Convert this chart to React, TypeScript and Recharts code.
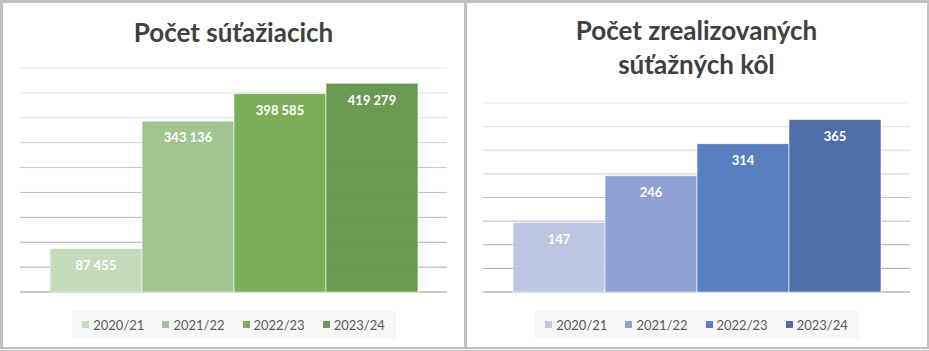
import { BarChart, Bar, XAxis, YAxis, CartesianGrid, LabelList } from "recharts";

const SEASONS = ["2020/21", "2021/22", "2022/23", "2023/24"];
const PARTICIPANTS = [87455, 343136, 398585, 419279];
const ROUNDS = [147, 246, 314, 365];
const PARTICIPANT_TICKS = [0, 50000, 100000, 150000, 200000, 250000, 300000, 350000, 400000, 450000];
const ROUND_TICKS = [0, 50, 100, 150, 200, 250, 300, 350, 400];

const GREENS = ["#c0d8b6", "#98c084", "#71a84c", "#5e9143"];
const BLUES = ["#b7c2e2", "#8499d0", "#4c73bd", "#40619e"];

const FONT = "Lato, 'Open Sans', sans-serif";
const BAR_OPACITY = 0.92;

const fmt = (v: any) => String(v).replace(/\B(?=(\d{3})+(?!\d))/g, " ");

interface PanelProps {
  titleLines: string[];
  titleTop: number;
  values: number[];
  ticks: number[];
  colors: string[];
  left: number;
  width: number;
  margin: { top: number; right: number; bottom: number; left: number };
}

function Panel({ titleLines, titleTop, values, ticks, colors, left, width, margin }: PanelProps) {
  const height = 344;
  const row: Record<string, any> = { name: "all" };
  SEASONS.forEach((s, i) => (row[s] = values[i]));
  const data = [row];

  const gridTop = margin.top;
  const gridBottom = height - margin.bottom;
  const gridLine = (p: any) => {
    const t = Math.max(0, Math.min(1, (p.y1 - gridTop) / (gridBottom - gridTop)));
    const g = Math.round(233 - t * 78);
    return (
      <line
        key={`gl-${p.y1}`}
        x1={p.x1}
        x2={p.x2}
        y1={p.y1}
        y2={p.y2}
        stroke={`rgb(${g},${g},${g})`}
        strokeWidth={1}
      />
    );
  };

  const plotW = width - margin.left - margin.right;

  return (
    <div
      style={{
        position: "absolute",
        left,
        top: 3,
        width,
        height,
        background: "#fff",
        fontFamily: FONT,
      }}
    >
      <div
        style={{
          position: "absolute",
          left: margin.left,
          width: plotW,
          top: titleTop,
          textAlign: "center",
          fontSize: 26,
          lineHeight: "34px",
          fontWeight: 700,
          color: "#404040",
        }}
      >
        {titleLines.map((l) => (
          <div key={l}>{l}</div>
        ))}
      </div>
      <BarChart
        width={width}
        height={height}
        data={data}
        margin={margin}
        barCategoryGap={30}
        barGap={0}
      >
        <CartesianGrid vertical={false} horizontal={gridLine} />
        <XAxis dataKey="name" hide />
        <YAxis hide domain={[0, ticks[ticks.length - 1]]} ticks={ticks} />
        {SEASONS.map((s, i) => (
          <Bar
            key={s}
            dataKey={s}
            fill={colors[i]}
            fillOpacity={BAR_OPACITY}
            stroke="#ffffff"
            strokeOpacity={0.6}
            strokeWidth={1}
            isAnimationActive={false}
          >
            <LabelList
              dataKey={s}
              position="insideTop"
              offset={12}
              fill="#ffffff"
              fontSize={13}
              fontWeight={700}
              formatter={fmt}
            />
          </Bar>
        ))}
      </BarChart>
      <div
        style={{
          position: "absolute",
          left: margin.left + plotW / 2 - 162,
          top: 308,
          width: 324,
          height: 27,
          background: "#f7f7f7",
          display: "flex",
          alignItems: "center",
          justifyContent: "center",
          gap: 18,
          fontSize: 13,
          color: "#595959",
        }}
      >
        {SEASONS.map((s, i) => (
          <div key={s} style={{ display: "flex", alignItems: "center", gap: 4 }}>
            <span
              style={{
                width: 7,
                height: 7,
                background: colors[i],
                opacity: BAR_OPACITY,
                display: "inline-block",
              }}
            />
            <span>{s}</span>
          </div>
        ))}
      </div>
    </div>
  );
}

export default function App() {
  return (
    <div
      style={{
        position: "absolute",
        left: 0,
        top: 0,
        width: 929,
        height: 351,
        background: "#c0c0c0",
        overflow: "hidden",
      }}
    >
      <Panel
        titleLines={["Počet súťažiacich"]}
        titleTop={12}
        values={PARTICIPANTS}
        ticks={PARTICIPANT_TICKS}
        colors={GREENS}
        left={3}
        width={461}
        margin={{ top: 65, right: 17, bottom: 55, left: 17 }}
      />
      <Panel
        titleLines={["Počet zrealizovaných", "súťažných kôl"]}
        titleTop={10}
        values={ROUNDS}
        ticks={ROUND_TICKS}
        colors={BLUES}
        left={467}
        width={460}
        margin={{ top: 100, right: 17, bottom: 55, left: 16 }}
      />
      <div
        style={{
          position: "absolute",
          left: 0,
          top: 349,
          width: 929,
          height: 1,
          background: "#ffffff",
        }}
      />
    </div>
  );
}
